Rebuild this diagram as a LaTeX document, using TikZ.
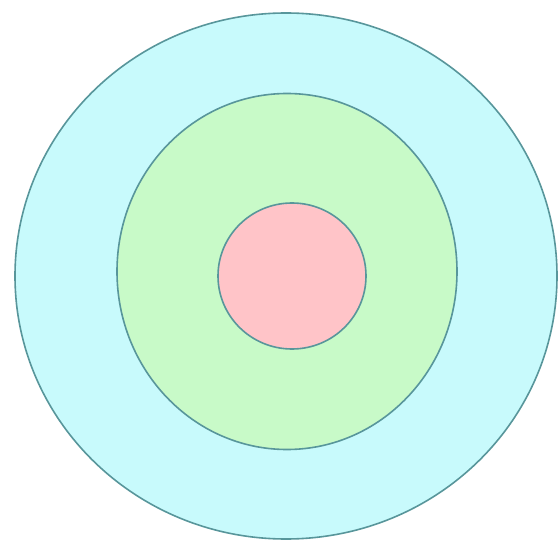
\documentclass[tikz,border=0pt]{standalone}
\begin{document}
\begin{tikzpicture}[x=1pt,y=-1pt,
  ring/.style={draw=ringline,line width=1.6pt},
]
\definecolor{ringline}{RGB}{88,150,155}
\definecolor{outerfill}{RGB}{200,250,252}
\definecolor{midfill}{RGB}{200,250,200}
\definecolor{innerfill}{RGB}{255,196,200}
\useasboundingbox (0,0) rectangle (560,540);
\fill[white] (0,0) rectangle (560,540);
\draw[ring,fill=outerfill] (286,276) ellipse [x radius=271, y radius=263];
\draw[ring,fill=midfill] (287,271.5) ellipse [x radius=170, y radius=178];
\draw[ring,fill=innerfill] (292,276) ellipse [x radius=74, y radius=73];
\end{tikzpicture}
\end{document}
